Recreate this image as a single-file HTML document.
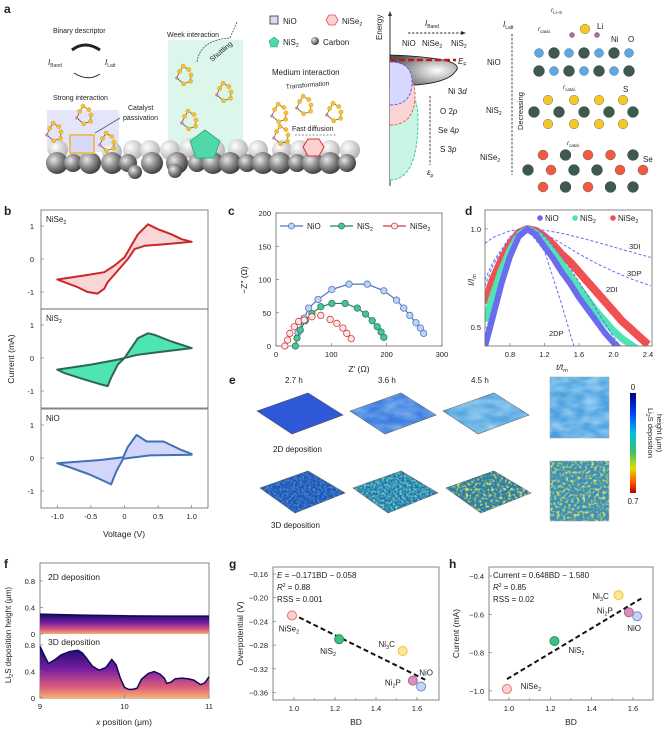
<!DOCTYPE html>
<html><head><meta charset="utf-8"><style>
html,body{margin:0;padding:0;background:#fff;}
svg{display:block;font-family:"Liberation Sans",sans-serif;}
text{fill:#222;}
</style></head><body>
<svg id="fig" width="666" height="733" viewBox="0 0 666 733" xmlns="http://www.w3.org/2000/svg">
<defs>
<radialGradient id="sph" cx="0.35" cy="0.35" r="0.7"><stop offset="0" stop-color="#e8e8e8"/><stop offset="0.5" stop-color="#8a8a8a"/><stop offset="1" stop-color="#3a3a3a"/></radialGradient>
<radialGradient id="sphL" cx="0.35" cy="0.35" r="0.7"><stop offset="0" stop-color="#ffffff"/><stop offset="1" stop-color="#b0b0b0"/></radialGradient>
<radialGradient id="lobe" cx="0.7" cy="0.5" r="0.7"><stop offset="0" stop-color="#ffffff"/><stop offset="1" stop-color="#555"/></radialGradient>
<linearGradient id="fgrad" x1="0" y1="0" x2="0" y2="1"><stop offset="0" stop-color="#140a6a"/><stop offset="0.45" stop-color="#7a1fa0"/><stop offset="0.8" stop-color="#e0607a"/><stop offset="1" stop-color="#f7b070"/></linearGradient>
<linearGradient id="cbar" x1="0" y1="0" x2="0" y2="1"><stop offset="0" stop-color="#00007a"/><stop offset="0.2" stop-color="#0040ff"/><stop offset="0.4" stop-color="#00c0e0"/><stop offset="0.6" stop-color="#40c060"/><stop offset="0.75" stop-color="#e0e000"/><stop offset="0.9" stop-color="#ff5000"/><stop offset="1" stop-color="#b00000"/></linearGradient>
<filter id="speck" x="0" y="0" width="1" height="1"><feTurbulence type="fractalNoise" baseFrequency="0.45" numOctaves="2" seed="3"/><feColorMatrix type="matrix" values="0 0 0 0 0.2  0 0 0 0 0.75  0 0 0 0 0.5  0 0 0 -2.2 1.4"/><feComposite in2="SourceGraphic" operator="in"/></filter>
<filter id="speck2" x="0" y="0" width="1" height="1"><feTurbulence type="fractalNoise" baseFrequency="0.35" numOctaves="2" seed="7"/><feColorMatrix type="matrix" values="0 0 0 0 0.9  0 0 0 0 0.8  0 0 0 0 0.1  0 0 0 -3 1.6"/><feComposite in2="SourceGraphic" operator="in"/></filter>
<filter id="wave" x="0" y="0" width="1" height="1"><feTurbulence type="fractalNoise" baseFrequency="0.06 0.12" numOctaves="2" seed="2"/><feColorMatrix type="matrix" values="0 0 0 0 0.6  0 0 0 0 0.85  0 0 0 0 1  0 0 0 -1.5 1.1"/><feComposite in2="SourceGraphic" operator="in"/></filter>
</defs>

<g>
<text x="4" y="13" font-size="12" font-weight="bold" fill="#111">a</text>
<rect x="47" y="110" width="72" height="42" fill="#e4e4fb"/>
<rect x="168" y="40" width="75" height="118" fill="#dcf6ec"/>
<text x="53" y="33" font-size="7">Binary descriptor</text>
<path d="M100 50 Q85 40 72 50" stroke="#222" stroke-width="3" fill="none"/>
<path d="M74 73 Q88 82 100 74" stroke="#222" stroke-width="1" fill="none"/>
<text x="48" y="65" font-size="8" font-style="italic" fill="#a03030">I<tspan font-size="5" dy="2" font-style="normal" fill="#333">Band</tspan></text>
<text x="105" y="65" font-size="8" font-style="italic" fill="#a03030">I<tspan font-size="5" dy="2" font-style="normal" fill="#333">Latt</tspan></text>
<text x="53" y="100" font-size="7">Strong interaction</text>
<text x="128" y="110" font-size="7">Catalyst</text>
<text x="123" y="120" font-size="7">passivation</text>
<line x1="95" y1="133" x2="120" y2="118" stroke="#456" stroke-width="0.8"/>
<text x="167" y="37" font-size="7">Week interaction</text>
<text x="212" y="62" font-size="7" transform="rotate(-40 212 62)">Shuttling</text>
<path d="M197 62 Q200 40 230 38 L237 22" stroke="#456" stroke-width="0.8" stroke-dasharray="2 1" fill="none"/>
<rect x="270" y="16" width="8" height="8" fill="#d8d8f8" stroke="#333" stroke-width="0.8"/>
<text x="283" y="24" font-size="8">NiO</text>
<polygon points="326,20 329,15 335,15 338,20 335,25 329,25" fill="#fbd0d0" stroke="#e05050" stroke-width="0.8"/>
<text x="342" y="24" font-size="8">NiSe<tspan font-size="5" dy="2">2</tspan></text>
<polygon points="274,37 279,41 277,47 271,47 269,41" fill="#50d8a8" stroke="#2a8" stroke-width="0.6"/>
<text x="283" y="45" font-size="8">NiS<tspan font-size="5" dy="2">2</tspan></text>
<circle cx="315" cy="41" r="4" fill="url(#sph)"/>
<text x="323" y="45" font-size="8">Carbon</text>
<text x="272" y="75" font-size="8">Medium interaction</text>
<text x="286" y="89" font-size="6.5" transform="rotate(-5 286 89)">Transformation</text>
<text x="292" y="131" font-size="7">Fast diffusion</text>
<line x1="295" y1="135" x2="337" y2="135" stroke="#667" stroke-width="0.8" stroke-dasharray="2 1.5"/>
<g id="spheres"></g>
<rect x="70" y="135" width="24" height="18" fill="#d8d8f8" stroke="#e8c060" stroke-width="2"/>
<polygon points="205,130 220,141 214,158 196,158 190,141" fill="#50d8a8" stroke="#2a7" stroke-width="0.8"/>
<polygon points="303,147 308,139 319,139 324,147 319,156 308,156" fill="#fbd0d0" stroke="#e03030" stroke-width="1"/>
<g id="clusters"></g>

<line x1="390" y1="186" x2="390" y2="14" stroke="#333" stroke-width="1"/>
<polygon points="390,11 388,16 392,16" fill="#333"/>
<text x="382" y="40" font-size="8" transform="rotate(-90 382 40)">Energy</text>
<path d="M390 55 Q470 58 455 72 Q445 86 390 86 Z" fill="url(#lobe)" stroke="#111" stroke-width="0.8"/>
<path d="M390 180 Q418 180 418 120 Q418 82 390 82" fill="#c8f4e4" stroke="#30d0a0" stroke-width="1" stroke-dasharray="3 1.5"/>
<path d="M390 125 Q415 125 415 95 Q415 72 390 72" fill="#fcd4d4" stroke="#f06060" stroke-width="1" stroke-dasharray="3 1.5"/>
<path d="M390 105 Q413 105 412 80 Q411 62 390 62" fill="#d8d8ff" stroke="#6060f0" stroke-width="1" stroke-dasharray="3 1.5"/>
<line x1="390" y1="60" x2="456" y2="60" stroke="#c01818" stroke-width="2.5" stroke-dasharray="6 3"/>
<text x="458" y="64" font-size="8" font-style="italic">E<tspan font-size="5" dy="2" font-style="normal">F</tspan></text>
<text x="425" y="26" font-size="8" font-style="italic">I<tspan font-size="5" dy="2" font-style="normal">Band</tspan></text>
<line x1="408" y1="33" x2="462" y2="33" stroke="#333" stroke-width="0.9" stroke-dasharray="2.5 1.5"/>
<polygon points="466,33 461,31 461,35" fill="#333"/>
<text x="402" y="46" font-size="8" fill="#6060f0">NiO</text>
<text x="422" y="46" font-size="8" fill="#f06060">NiSe<tspan font-size="5" dy="2">2</tspan></text>
<text x="451" y="46" font-size="8" fill="#30c090">NiS<tspan font-size="5" dy="2">2</tspan></text>
<text x="448" y="94" font-size="8">Ni 3<tspan font-style="italic">d</tspan></text>
<line x1="430" y1="96" x2="430" y2="165" stroke="#333" stroke-width="0.9" stroke-dasharray="2.5 1.5"/>
<text x="440" y="114" font-size="8" fill="#6060f0">O 2<tspan font-style="italic">p</tspan></text>
<text x="438" y="133" font-size="8" fill="#f06060">Se 4<tspan font-style="italic">p</tspan></text>
<text x="440" y="152" font-size="8" fill="#30c090">S 3<tspan font-style="italic">p</tspan></text>
<text x="427" y="175" font-size="8" font-style="italic">ε<tspan font-size="5" dy="2">p</tspan></text>

<text x="503" y="27" font-size="8" font-style="italic">I<tspan font-size="5" dy="2" font-style="normal">Latt</tspan></text>
<line x1="512" y1="34" x2="512" y2="175" stroke="#333" stroke-width="0.9" stroke-dasharray="2.5 1.5"/>
<text x="523" y="130" font-size="7.5" transform="rotate(-90 523 130)">Decreasing</text>
<text x="487" y="65" font-size="8">NiO</text>
<text x="486" y="113" font-size="8">NiS<tspan font-size="5" dy="2">2</tspan></text>
<text x="480" y="160" font-size="8">NiSe<tspan font-size="5" dy="2">2</tspan></text>
<text x="551" y="12" font-size="6.5" font-style="italic">r<tspan font-size="4.5" dy="2" font-style="normal">Li–S</tspan></text>
<text x="538" y="31" font-size="6.5" font-style="italic">r<tspan font-size="4.5" dy="2" font-style="normal">catal.</tspan></text>
<text x="563" y="89" font-size="6.5" font-style="italic">r<tspan font-size="4.5" dy="2" font-style="normal">catal.</tspan></text>
<text x="567" y="145" font-size="6.5" font-style="italic">r<tspan font-size="4.5" dy="2" font-style="normal">catal.</tspan></text>
<text x="597" y="29" font-size="8" fill="#c05090">Li</text>
<text x="611" y="42" font-size="8">Ni</text>
<text x="628" y="42" font-size="8" fill="#3080d0">O</text>
<text x="623" y="92" font-size="8" fill="#e8b000">S</text>
<text x="643" y="162" font-size="8" fill="#e03030">Se</text>
<g id="lattice"></g>
</g>

<text x="4" y="215" font-size="12" font-weight="bold" fill="#111">b</text>
<text x="228" y="215" font-size="12" font-weight="bold" fill="#111">c</text>
<text x="465" y="215" font-size="12" font-weight="bold" fill="#111">d</text>
<text x="229" y="384" font-size="12" font-weight="bold" fill="#111">e</text>
<text x="4" y="568" font-size="12" font-weight="bold" fill="#111">f</text>
<text x="229" y="568" font-size="12" font-weight="bold" fill="#111">g</text>
<text x="449" y="568" font-size="12" font-weight="bold" fill="#111">h</text>

<g>
<text x="285" y="383" font-size="8">2.7 h</text>
<text x="378" y="383" font-size="8">3.6 h</text>
<text x="471" y="383" font-size="8">4.5 h</text>
<polygon points="257,411 308,393 343,415 292,434" fill="#2e58d8" stroke="#555" stroke-width="0.6"/>
<polygon points="350,411 401,393 436,415 385,434" fill="#3d7ee0" stroke="#555" stroke-width="0.6"/>
<polygon points="443,411 494,393 529,415 478,434" fill="#58a8e0" stroke="#555" stroke-width="0.6"/>
<polygon points="350,411 401,393 436,415 385,434" fill="#3d7ee0" filter="url(#wave)" opacity="0.5"/>
<polygon points="443,411 494,393 529,415 478,434" fill="#58a8e0" filter="url(#wave)" opacity="0.6"/>
<text x="273" y="452" font-size="8">2D deposition</text>
<polygon points="260,488 308,471 345,493 295,513" fill="#1e50c0" stroke="#555" stroke-width="0.6"/>
<polygon points="260,488 308,471 345,493 295,513" fill="#1e50c0" filter="url(#speck)" opacity="0.5"/>
<polygon points="353,488 401,471 438,493 388,513" fill="#2070b0" stroke="#555" stroke-width="0.6"/>
<polygon points="353,488 401,471 438,493 388,513" fill="#2070b0" filter="url(#speck)"/>
<polygon points="446,488 494,471 531,493 481,513" fill="#2a80a8" stroke="#555" stroke-width="0.6"/>
<polygon points="446,488 494,471 531,493 481,513" fill="#2a80a8" filter="url(#speck2)"/>
<text x="271" y="528" font-size="8">3D deposition</text>
<rect x="550" y="377" width="59" height="61" fill="#4aa0e0" stroke="#999" stroke-width="0.5"/>
<rect x="550" y="377" width="59" height="61" fill="#4aa0e0" filter="url(#wave)" opacity="0.7"/>
<rect x="550" y="461" width="59" height="60" fill="#3a90b8" stroke="#999" stroke-width="0.5"/>
<rect x="550" y="461" width="59" height="60" fill="#3a90b8" filter="url(#speck2)"/>
<rect x="630" y="393" width="6" height="100" fill="url(#cbar)"/>
<text x="633" y="390" font-size="8" text-anchor="middle">0</text>
<text x="633" y="504" font-size="8" text-anchor="middle">0.7</text>
<text x="648" y="408" font-size="7.5" transform="rotate(90 648 408)">Li<tspan font-size="5" dy="2">2</tspan><tspan dy="-2">S deposition</tspan></text>
<text x="657" y="414" font-size="7.5" transform="rotate(90 657 414)">height (μm)</text>
</g>
<g id="charts"></g>
</svg>
<script>
// panel b: cyclic voltammetry
const cvNames = ['NiSe2','NiS2','NiO'];
const cvUpV_NiSe2 = [-1,-0.6,-0.3,-0.15,0,0.1,0.2,0.25,0.35,0.5,0.7,0.85,1.0];
const cvUpI_NiSe2 = [-0.62,-0.5,-0.4,-0.2,0.05,0.4,0.75,0.85,1.05,0.9,0.75,0.6,0.52];
const cvLoV_NiSe2 = [1.0,0.6,0.3,0.15,0.05,-0.1,-0.25,-0.3,-0.4,-0.55,-0.7,-0.9,-1];
const cvLoI_NiSe2 = [0.52,0.45,0.4,0.3,0.0,-0.35,-0.7,-0.9,-1.05,-1.0,-0.85,-0.7,-0.62];
const cvUpV_NiS2 = [-1,-0.5,-0.1,0,0.1,0.2,0.35,0.45,0.7,1.0];
const cvUpI_NiS2 = [-0.35,-0.2,-0.05,0.0,0.3,0.6,0.75,0.7,0.5,0.3];
const cvLoV_NiS2 = [1.0,0.6,0.2,0,-0.1,-0.2,-0.25,-0.35,-0.6,-0.9,-1];
const cvLoI_NiS2 = [0.3,0.2,0.1,0,-0.2,-0.6,-0.85,-0.8,-0.65,-0.45,-0.35];
const cvUpV_NiO = [-1,-0.36,-0.02,0.05,0.18,0.33,0.58,0.85,1.0];
const cvUpI_NiO = [-0.16,-0.06,0.02,0.34,0.7,0.5,0.5,0.24,0.12];
const cvLoV_NiO = [1.0,0.38,-0.02,-0.12,-0.2,-0.3,-0.52,-0.82,-1.0];
const cvLoI_NiO = [0.1,0.08,-0.02,-0.4,-0.8,-0.7,-0.5,-0.28,-0.16];
const cvTicksV = [-1.0,-0.5,0,0.5,1.0];
const cvTickLabelsV = ['-1.0','-0.5','0','0.5','1.0'];
const cvTicksI = [1,0,-1];

// panel c: Nyquist
const eisZr_NiO = [40,51,59,76,101,132,165,195,218,231,242,253,261,267];
const eisZi_NiO = [20,42,57,70,85,93,93,83,69,57,46,35,27,19];
const eisZr_NiS2 = [35,38,44,53,65,81,101,125,147,162,174,183,190,195];
const eisZi_NiS2 = [0,12,24,38,49,59,64,64,57,48,38,29,21,13];
const eisZr_NiSe2 = [16,21,25,33,41,51,65,81,98,110,121,128,136];
const eisZi_NiSe2 = [0,9,19,29,37,39,44,46,40,34,27,19,11];
const eisTicksX = [0,100,200,300];
const eisTicksY = [0,50,100,150,200];

// panel d: nucleation
const tArr = [0.51,0.6,0.7,0.8,0.9,1.0,1.1,1.2,1.3,1.4,1.5,1.6,1.7,1.8,1.9,2.0,2.1,2.2,2.3,2.4];
const nucNiSe2 = [0.62,0.74,0.84,0.92,0.98,1.0,0.99,0.96,0.92,0.87,0.83,0.78,0.73,0.68,0.63,0.58,0.53,0.49,0.45,0.41];
const nucNiS2 = [0.53,0.66,0.79,0.89,0.97,1.0,0.98,0.94,0.88,0.82,0.76,0.70,0.64,0.58,0.53,0.48,0.44,0.41,0.38,0.36];
const nucNiO = [0.40,0.55,0.72,0.86,0.96,1.0,0.97,0.91,0.85,0.78,0.72,0.65,0.59,0.53,0.47,0.42,0.38,0.35,0.32,0.30];
const modelT = [0.51,0.6,0.8,1.0,1.2,1.4,1.6,1.8,2.0,2.2,2.43];
const model3DI = [0.926,0.956,0.991,1.0,0.994,0.978,0.957,0.933,0.908,0.883,0.855];
const model3DP = [0.707,0.813,0.960,1.0,0.976,0.926,0.873,0.825,0.783,0.746,0.71];
const model2DI = [0.74,0.83,0.96,1.0,0.96,0.86,0.73,0.59,0.45,0.33,0.22];
const model2DPt = [0.51,0.6,0.8,1.0,1.2,1.4,1.5,1.55];
const model2DP = [0.46,0.607,0.886,1.0,0.887,0.613,0.462,0.39];
const nucTicksX = [0.8,1.2,1.6,2.0,2.4];
const nucTickLabelsX = ['0.8','1.2','1.6','2.0','2.4'];
const nucTicksY = [1.0,0.5];

// panel f
const fPos2D = [9,9.5,10,10.5,11];
const fH2D = [0.30,0.285,0.275,0.27,0.27];
const fPos3D = [9,9.05,9.1,9.18,9.25,9.35,9.45,9.5,9.55,9.62,9.7,9.78,9.85,9.9,9.95,10,10.05,10.1,10.15,10.2,10.28,10.35,10.42,10.47,10.5,10.55,10.6,10.68,10.75,10.82,10.9,10.95,11];
const fH3D = [0.78,0.65,0.52,0.58,0.65,0.70,0.72,0.68,0.6,0.48,0.42,0.46,0.58,0.5,0.3,0.16,0.13,0.13,0.15,0.28,0.37,0.40,0.36,0.3,0.22,0.24,0.29,0.30,0.29,0.27,0.2,0.23,0.32];
const fTicksX = [9,10,11];
const fTicksY = [0,0.4,0.8];

// panels g,h
const bdNames = ['NiSe2','NiS2','Ni3C','Ni2P','NiO'];
const bdValues = [0.99,1.22,1.53,1.58,1.62];
const overpotential = [-0.23,-0.27,-0.29,-0.34,-0.35];
const currentVals = [-0.99,-0.74,-0.50,-0.59,-0.61];
const gFit = [-0.171,-0.058];
const hFit = [0.648,-1.580];
const gTicksY = [-0.16,-0.20,-0.24,-0.28,-0.32,-0.36];
const hTicksY = [-0.4,-0.6,-0.8,-1.0];
const bdTicks = [1.0,1.2,1.4,1.6];

const NS='http://www.w3.org/2000/svg';
const svg=document.getElementById('fig');
const root=document.getElementById('charts');
function mk(tag,attrs,parent){const e=document.createElementNS(NS,tag);for(const k in attrs)e.setAttribute(k,attrs[k]);(parent||root).appendChild(e);return e;}
function tx(str,attrs,parent){const e=mk('text',attrs,parent);e.innerHTML=str;return e;}
function lab(s){return s.replace(/(\d)$/,'<tspan font-size="5.5" dy="2">$1</tspan>').replace(/Ni(\d)([A-Z])/,'Ni<tspan font-size="5.5" dy="2">$1</tspan><tspan dy="-2">$2</tspan>');}

const sph=document.getElementById('spheres');
[[58,150],[82,148],[112,152],[133,150],[150,150],[170,150],[190,148],[215,150],[238,149],[258,150],[282,150],[300,150],[330,150],[350,150]].forEach(p=>{const c=mk('circle',{cx:p[0],cy:p[1],r:10,fill:'url(#sphL)'},sph);

});
[57,73,90,112,128,152,177,197,213,230,247,263,280,297,313,330,347].forEach((x,i)=>{const c=mk('circle',{cx:x,cy:163,r:i%3==1?9:11,fill:'url(#sph)'},sph);

});
[[135,172],[175,171]].forEach(p=>{const c=mk('circle',{cx:p[0],cy:p[1],r:7,fill:'url(#sph)'},sph);

});
const cl=document.getElementById('clusters');
[[55,132],[85,115],[108,142],[185,75],[225,92],[190,120],[280,113],[282,135],[305,105],[335,112]].forEach(p=>{
 const g=mk('g',{},cl);
 
 
 const pts=[];for(let k=0;k<7;k++){const a=k*0.9;pts.push([p[0]+Math.cos(a)*(6+(k%2)*3),p[1]+Math.sin(a)*(7+(k%3))]);}
 mk('polyline',{points:pts.map(q=>q.join(',')).join(' '),fill:'none',stroke:'#333','stroke-width':0.6},g);
 pts.forEach((q,k)=>mk('circle',{cx:q[0],cy:q[1],r:k==3?1.5:2.2,fill:k==3?'#d080b0':'#f5c030',stroke:'#c09020','stroke-width':0.3},g));
});
const lat=document.getElementById('lattice');
function atom(x,y,type){const col={ni:'#3c5a50',o:'#5aa8e8',s:'#f5c828',se:'#f05a40',li:'#c060a0'}[type];const r={ni:5.5,o:4.5,s:4.8,se:5,li:2.5}[type];
 const c=mk('circle',{cx:x,cy:y,r:r,fill:col,stroke:'#333','stroke-width':0.3},lat);
 
 }
[539,554,569,584,599,614,629].forEach((x,i)=>{atom(x,53,i%2?'ni':'o');atom(x,71,i%2?'o':'ni');});
atom(585,29,'s');atom(572,35,'li');atom(597,35,'li');
[548,574,599,623].forEach(x=>{atom(x,100,'s');atom(x,124,'s');});
[534,559,584,609,633].forEach(x=>atom(x,112,'ni'));
['se','ni','se','se','ni'].forEach((t,i)=>atom(543+i*22.5,155,t));
['ni','se','ni','ni','se','se'].forEach((t,i)=>atom(528+i*23,170,t));
['se','ni','se','ni','ni'].forEach((t,i)=>atom(543+i*22.5,187,t));

// PANEL B
const cvData={NiSe2:[cvUpV_NiSe2,cvUpI_NiSe2,cvLoV_NiSe2,cvLoI_NiSe2],NiS2:[cvUpV_NiS2,cvUpI_NiS2,cvLoV_NiS2,cvLoI_NiS2],NiO:[cvUpV_NiO,cvUpI_NiO,cvLoV_NiO,cvLoI_NiO]};
const cvCol={NiSe2:['#c82828','#fbd6d6'],NiS2:['#2e6652','#4fe4b4'],NiO:['#3f70b8','#d2d6fa']};
const bX=v=>124.5+v*67.2;
const bTop=[210,309,409];
cvNames.forEach((n,i)=>{
 const top=bTop[i];const bY=c=>top+49-c*33;
 const g=mk('g',{});
 
 
 mk('rect',{x:41,y:top,width:167,height:99,fill:'none',stroke:'#666','stroke-width':0.8},g);
 const d=cvData[n];let p='';
 d[0].forEach((v,k)=>{p+=(k?'L':'M')+bX(v).toFixed(1)+' '+bY(d[1][k]).toFixed(1);});
 d[2].forEach((v,k)=>{p+='L'+bX(v).toFixed(1)+' '+bY(d[3][k]).toFixed(1);});
 const path=mk('path',{d:p+'Z',fill:cvCol[n][1],stroke:cvCol[n][0],'stroke-width':2,'stroke-linejoin':'round'},g);
 
 
 tx(lab(n),{x:46,y:top+12,'font-size':8},g);
 cvTicksI.forEach(t=>{mk('line',{x1:41,x2:44,y1:bY(t),y2:bY(t),stroke:'#666','stroke-width':0.6},g);tx(t==-1?'-1':String(t),{x:34,y:bY(t)+3,'font-size':7.5,'text-anchor':'end'},g);});
});
cvTicksV.forEach((v,k)=>{mk('line',{x1:bX(v),x2:bX(v),y1:508,y2:505,stroke:'#666','stroke-width':0.6});
 const t=tx(cvTickLabelsV[k],{x:bX(v),y:519,'font-size':7.5,'text-anchor':'middle'});
 
 });
let t1=tx('Voltage (V)',{x:124,y:537,'font-size':8.5,'text-anchor':'middle'});


t1=tx('Current (mA)',{x:14,y:359,'font-size':8.5,'text-anchor':'middle',transform:'rotate(-90 14 359)'});



// PANEL C
const cX=z=>276+z*0.553, cY=z=>346-z*0.665;
mk('rect',{x:276,y:213,width:166,height:133,fill:'none',stroke:'#666','stroke-width':0.8});
eisTicksX.forEach(v=>{mk('line',{x1:cX(v),x2:cX(v),y1:346,y2:343,stroke:'#666','stroke-width':0.6});tx(String(v),{x:cX(v),y:357,'font-size':7.5,'text-anchor':'middle'});});
eisTicksY.forEach(v=>{mk('line',{x1:276,x2:279,y1:cY(v),y2:cY(v),stroke:'#666','stroke-width':0.6});tx(String(v),{x:271,y:cY(v)+3,'font-size':7.5,'text-anchor':'end'});});
t1=tx("Z′ (Ω)",{x:359,y:372,'font-size':8.5,'text-anchor':'middle'});


t1=tx("−Z″ (Ω)",{x:247,y:280,'font-size':8.5,'text-anchor':'middle',transform:'rotate(-90 247 280)'});


const eisSeries=[['NiO',eisZr_NiO,eisZi_NiO,'#4a78c0','#c4d2f2'],['NiS2',eisZr_NiS2,eisZi_NiS2,'#2e7a5e','#48c497'],['NiSe2',eisZr_NiSe2,eisZi_NiSe2,'#d03a3a','#fde8e8']];
eisSeries.forEach((s,i)=>{
 const g=mk('g',{});
 
 
 mk('polyline',{points:s[1].map((z,k)=>cX(z)+','+cY(s[2][k])).join(' '),fill:'none',stroke:s[3],'stroke-width':i==2?0:1.2},g);
 s[1].forEach((z,k)=>{const c=mk('circle',{cx:cX(z),cy:cY(s[2][k]),r:3.2,fill:s[4],stroke:s[3],'stroke-width':0.8},g);
  
  });
 const lx=[280,330,383][i];
 mk('line',{x1:lx,x2:lx+23,y1:226,y2:226,stroke:s[3],'stroke-width':1.3},g);
 mk('circle',{cx:lx+11.5,cy:226,r:3,fill:s[4],stroke:s[3],'stroke-width':0.8},g);
 const lt=tx(lab(s[0]),{x:lx+27,y:229,'font-size':8},g);
 
 
});

// PANEL D
const dX=t=>485+(t-0.51)*86.25, dY=v=>346-(v-0.403)*196;
const clipD=mk('clipPath',{id:'clipD'});mk('rect',{x:485,y:210,width:167,height:136},clipD);
const dg=mk('g',{'clip-path':'url(#clipD)'});


[[nucNiSe2,'#f25050',8,'NiSe2'],[nucNiS2,'#50e4b4',7,'NiS2'],[nucNiO,'#6b6bf0',6,'NiO']].forEach(s=>{
 const l=mk('polyline',{points:tArr.map((t,k)=>dX(t).toFixed(1)+','+dY(s[0][k]).toFixed(1)).join(' '),fill:'none',stroke:s[1],'stroke-width':s[2],'stroke-linejoin':'round'},dg);
 
 });
[[modelT,model3DI,'3DI'],[modelT,model3DP,'3DP'],[modelT,model2DI,'2DI'],[model2DPt,model2DP,'2DP']].forEach(s=>{
 const l=mk('polyline',{points:s[0].map((t,k)=>dX(t).toFixed(1)+','+dY(s[1][k]).toFixed(1)).join(' '),fill:'none',stroke:'#6a6af5','stroke-width':1,'stroke-dasharray':'3 2'},dg);
 
 });
mk('rect',{x:485,y:210,width:167,height:136,fill:'none',stroke:'#666','stroke-width':0.8});
[['3DI',629,249],['3DP',627,276],['2DI',606,292],['2DP',549,336]].forEach(a=>tx(a[0],{x:a[1],y:a[2],'font-size':7.5}));
nucTicksX.forEach((v,k)=>{mk('line',{x1:dX(v),x2:dX(v),y1:346,y2:343,stroke:'#666','stroke-width':0.6});tx(nucTickLabelsX[k],{x:dX(v),y:357,'font-size':7.5,'text-anchor':'middle'});});
nucTicksY.forEach(v=>{mk('line',{x1:485,x2:488,y1:dY(v),y2:dY(v),stroke:'#666','stroke-width':0.6});tx(v.toFixed(1),{x:481,y:dY(v)+3,'font-size':7.5,'text-anchor':'end'});});
t1=tx('t/t<tspan font-size="5.5" dy="2">m</tspan>',{x:562,y:370,'font-size':8.5,'text-anchor':'middle','font-style':'italic'});


t1=tx('I/I<tspan font-size="5.5" dy="2">m</tspan>',{x:474,y:280,'font-size':8.5,'text-anchor':'middle','font-style':'italic',transform:'rotate(-90 474 280)'});


[['NiO','#6b6bf0',540],['NiS2','#50e4b4',575],['NiSe2','#f25050',613]].forEach(s=>{
 mk('circle',{cx:s[2],cy:218,r:2.8,fill:s[1]});
 const l=tx(lab(s[0]),{x:s[2]+5,y:221,'font-size':8});
 
 });

// PANEL F
const fX=p=>40+(p-9)*84.5;
mk('rect',{x:40,y:563,width:169,height:135,fill:'none',stroke:'#666','stroke-width':0.8});
[[fPos2D,fH2D,634,'2d'],[fPos3D,fH3D,698,'3d']].forEach(s=>{
 const base=s[2];const fY=h=>base-h*66.3;
 let d='M'+fX(s[0][0])+' '+base;
 s[0].forEach((p,k)=>{d+='L'+fX(p).toFixed(1)+' '+fY(s[1][k]).toFixed(1);});
 d+='L'+fX(s[0][s[0].length-1])+' '+base+'Z';
 const a=mk('path',{d:d,fill:'url(#fgrad)'});
 
 
 mk('polyline',{points:s[0].map((p,k)=>fX(p).toFixed(1)+','+fY(s[1][k]).toFixed(1)).join(' '),fill:'none',stroke:'#12085a','stroke-width':1.5});
 fTicksY.forEach(v=>{mk('line',{x1:40,x2:43,y1:fY(v),y2:fY(v),stroke:'#666','stroke-width':0.6});tx(v===0?'0':v.toFixed(1),{x:35,y:fY(v)+3,'font-size':7.5,'text-anchor':'end'});});
});
tx('2D deposition',{x:48,y:580,'font-size':8.5});
tx('3D deposition',{x:48,y:645,'font-size':8.5});
fTicksX.forEach(v=>{mk('line',{x1:fX(v),x2:fX(v),y1:698,y2:695,stroke:'#666','stroke-width':0.6});tx(String(v),{x:fX(v),y:709,'font-size':7.5,'text-anchor':'middle'});});
t1=tx('<tspan font-style="italic">x</tspan> position (μm)',{x:124,y:725,'font-size':8.5,'text-anchor':'middle'});


t1=tx('Li<tspan font-size="5.5" dy="2">2</tspan><tspan dy="-2">S deposition height (μm)</tspan>',{x:11,y:635,'font-size':8,'text-anchor':'middle',transform:'rotate(-90 11 635)'});



// PANELS G/H
const ptCol=[['#fcd0d0','#e87070'],['#40c080','#2a9060'],['#fce890','#f0c040'],['#d890c0','#b06090'],['#c8d4f4','#7090d0']];
function scatter(cfg){
 const {x0,x1,y0,y1,xs,ys,yv,ticksY,fmtY,fit,name,labelPos,title,ann}=cfg;
 mk('rect',{x:x0,y:y0,width:x1-x0,height:y1-y0,fill:'none',stroke:'#666','stroke-width':0.8});
 bdTicks.forEach(v=>{mk('line',{x1:xs(v),x2:xs(v),y1:y1,y2:y1-3,stroke:'#666','stroke-width':0.6});tx(v.toFixed(1),{x:xs(v),y:y1+11,'font-size':7.5,'text-anchor':'middle'});});
 [1.1,1.3,1.5].forEach(v=>mk('line',{x1:xs(v),x2:xs(v),y1:y1,y2:y1-2,stroke:'#666','stroke-width':0.5}));
 ticksY.forEach(v=>{mk('line',{x1:x0,x2:x0+3,y1:ys(v),y2:ys(v),stroke:'#666','stroke-width':0.6});tx(fmtY(v),{x:x0-5,y:ys(v)+3,'font-size':7.5,'text-anchor':'end'});});
 const bx0=0.99,bx1=1.64;
 const fl=mk('line',{x1:xs(bx0),y1:ys(fit[0]*bx0+fit[1]),x2:xs(bx1),y2:ys(fit[0]*bx1+fit[1]),stroke:'#111','stroke-width':2,'stroke-dasharray':'5 3'});
 
 
 bdValues.forEach((b,k)=>{const c=mk('circle',{cx:xs(b),cy:ys(yv[k]),r:4.5,fill:ptCol[k][0],stroke:ptCol[k][1],'stroke-width':1});
  
  
  const lp=labelPos[k];
  tx(lab(bdNames[k]),{x:xs(b)+lp[0],y:ys(yv[k])+lp[1],'font-size':8,'text-anchor':'middle'});});
 tx('BD',{x:(x0+x1)/2,y:725,'font-size':8.5,'text-anchor':'middle'});
 tx(title,{x:x0-30,y:(y0+y1)/2,'font-size':8.5,'text-anchor':'middle',transform:'rotate(-90 '+(x0-30)+' '+((y0+y1)/2)+')'});
 ann.forEach((a,k)=>tx(a,{x:x0+4,y:y0+11+k*12,'font-size':8}));
}
scatter({x0:273,x1:439,y0:567,y1:700,xs:b=>294+(b-1)*205,ys:v=>574+(-0.16-v)*592.5,yv:overpotential,ticksY:gTicksY,fmtY:v=>v.toFixed(2).replace('-','−'),fit:gFit,name:'overpotential',
 labelPos:[[-3,16],[-11,15],[-16,-4],[-20,5],[5,-11]],title:'Overpotential (V)',
 ann:['<tspan font-style="italic">E</tspan> = −0.171BD − 0.058','<tspan font-style="italic">R</tspan><tspan font-size="5" dy="-3">2</tspan><tspan dy="3"> = 0.88</tspan>','RSS = 0.001']});
scatter({x0:489,x1:653,y0:567,y1:700,xs:b=>509+(b-1)*206.7,ys:c=>576+(-0.4-c)*191.5,yv:currentVals,ticksY:hTicksY,fmtY:v=>v.toFixed(1).replace('-','−'),fit:hFit,name:'current',
 labelPos:[[24,0],[22,12],[-18,4],[-24,1],[-3,15]],title:'Current (mA)',
 ann:['Current = 0.648BD − 1.580','<tspan font-style="italic">R</tspan><tspan font-size="5" dy="-3">2</tspan><tspan dy="3"> = 0.85</tspan>','RSS = 0.02']});
</script>
</body></html>
